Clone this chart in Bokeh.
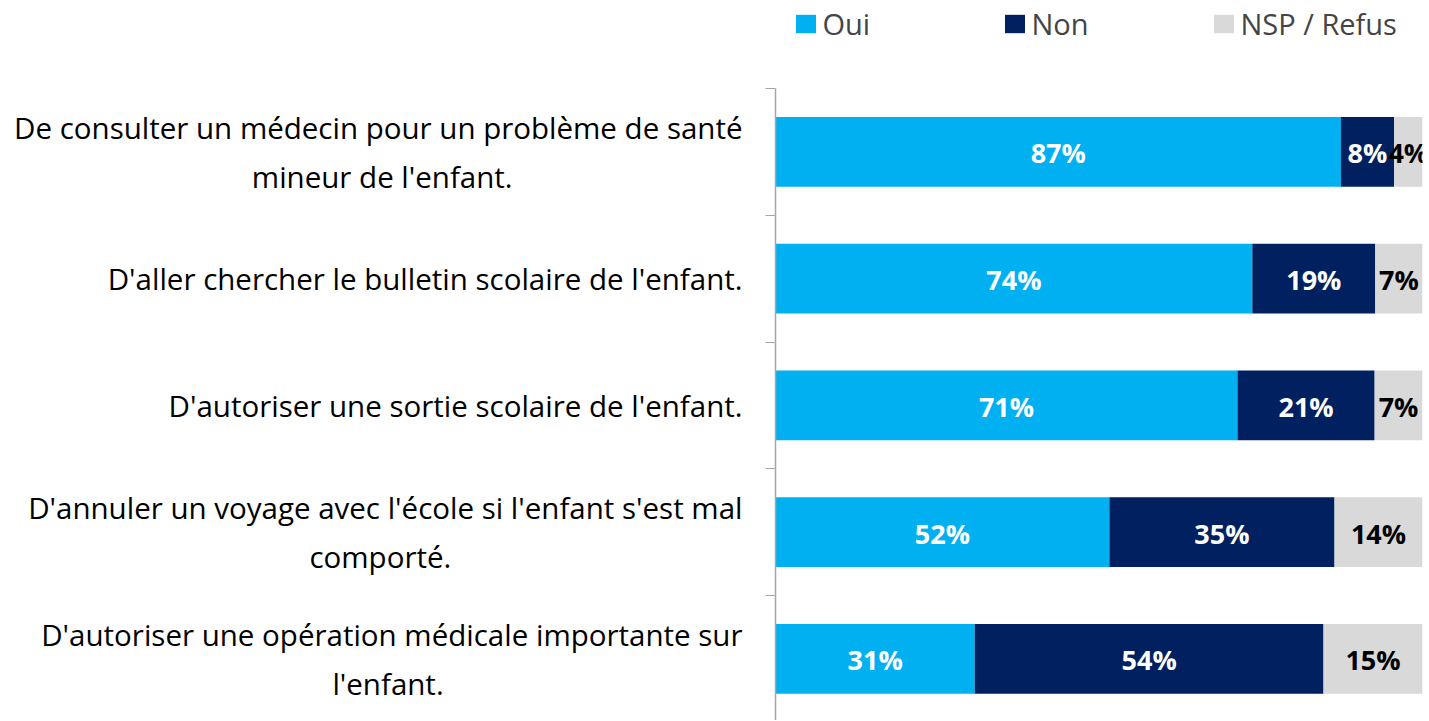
from bokeh.plotting import figure
from bokeh.layouts import column
from bokeh.models import Range1d, FixedTicker, ColumnDataSource, Legend, LegendItem
from bokeh.embed import file_html
from bokeh.resources import INLINE
from bokeh.core.properties import value

categories = [
    "De consulter un médecin pour un problème de santé\nmineur de l'enfant.",
    "D'aller chercher le bulletin scolaire de l'enfant.",
    "D'autoriser une sortie scolaire de l'enfant.",
    "D'annuler un voyage avec l'école si l'enfant s'est mal\ncomporté.",
    "D'autoriser une opération médicale importante sur\nl'enfant.",
]
oui = [87.4, 73.7, 71.4, 51.6, 30.8]
non = [8.2, 19.0, 21.2, 34.8, 53.9]
nsp = [4.4, 7.3, 7.4, 13.6, 15.3]
series_names = ["Oui", "Non", "NSP / Refus"]
series_colors = ["#00B0F0", "#002060", "#D9D9D9"]
label_colors = ["#FFFFFF", "#FFFFFF", "#000000"]

FONT = "Open Sans"
NBSP = "\u00a0"
# trailing non-breaking spaces so that short second lines sit centred under the first
# line (Bokeh right-aligns every line of a multi-line tick label)
second_line_pad = [30, 0, 0, 38, 39]

n = len(categories)
ys = [i + 1 for i in range(n)]


def padded(label, pad):
    lines = label.split("\n")
    if len(lines) > 1:
        lines[1] = lines[1] + NBSP * pad
    return "\n".join(lines)


# ---- legend strip (top) ----
lg = figure(width=1429, height=88, output_backend="svg", toolbar_location=None,
            x_range=Range1d(0, 1), y_range=Range1d(0, 1),
            x_axis_location=None, y_axis_location=None,
            min_border_left=775, min_border_right=7, min_border_top=3, min_border_bottom=0)
lg.outline_line_color = None
lg.xgrid.visible = False
lg.ygrid.visible = False
dummy = []
for col in series_colors:
    dummy.append(lg.hbar(y=[0.5], left=[0], right=[0], height=0.0, fill_color=col,
                         line_color=None))
legend = Legend(items=[LegendItem(label=nm, renderers=[r]) for nm, r in zip(series_names, dummy)],
                orientation="horizontal", location=(17.5, 45), padding=0, margin=0,
                spacing=6, glyph_width=25, glyph_height=23, label_standoff=5,
                label_width=173, label_text_font=FONT, label_text_font_size="29px",
                border_line_color=None, background_fill_alpha=0)
lg.add_layout(legend, "center")

# ---- main chart ----
p = figure(width=1429, height=632, output_backend="svg", toolbar_location=None,
           x_range=Range1d(0, 100), y_range=Range1d(start=5.486, end=0.5),
           x_axis_location=None, min_border_left=775, min_border_right=7,
           min_border_top=0, min_border_bottom=0)
p.outline_line_color = None
p.xgrid.visible = False
p.ygrid.visible = False

ax = p.yaxis[0]
ax.ticker = FixedTicker(ticks=ys, minor_ticks=[i + 0.5 for i in range(n + 1)])
ax.major_label_overrides = {y: padded(c, pd) for y, c, pd in zip(ys, categories, second_line_pad)}
ax.major_tick_out = 0
ax.major_tick_in = 0
ax.minor_tick_out = 10
ax.minor_tick_in = 0
ax.minor_tick_line_color = "#A6A6A6"
ax.axis_line_color = "#A6A6A6"
ax.axis_line_width = 1.5
ax.major_label_standoff = 23
ax.major_label_text_font = FONT
ax.major_label_text_font_size = "29.5px"
ax.major_label_text_color = "#000000"

series = [oui, non, nsp]
left = [0.0] * n
for name, vals, col, lcol in zip(series_names, series, series_colors, label_colors):
    right = [l + v for l, v in zip(left, vals)]
    src = ColumnDataSource(dict(
        y=ys, left=left, right=right,
        mid=[(l + r) / 2 for l, r in zip(left, right)],
        lab=[f"{round(v)}%" for v in vals],
    ))
    p.hbar(y="y", left="left", right="right", height=0.55, source=src,
           fill_color=col, line_color=None)
    p.text(x="mid", y="y", text="lab", source=src, text_align="center",
           text_baseline="middle", text_color=lcol, text_font=value(FONT),
           text_font_style="bold", text_font_size="27px", y_offset=1)
    left = right

layout = column(lg, p, spacing=0)
open("out.html", "w").write(file_html(layout, INLINE))
